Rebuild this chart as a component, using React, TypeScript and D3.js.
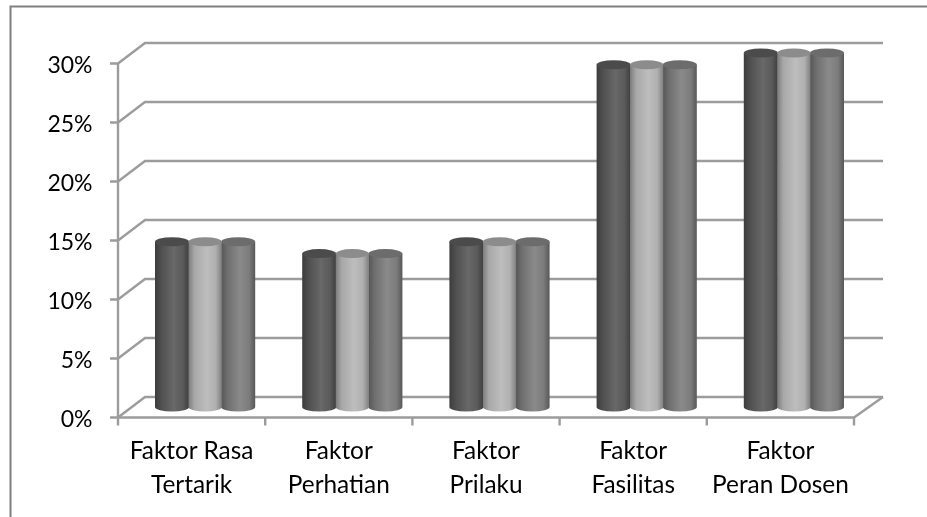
import React from "react";
import * as d3 from "d3";

const categories = [["Faktor Rasa", "Tertarik"], ["Faktor", "Perhatian"], ["Faktor", "Prilaku"], ["Faktor", "Fasilitas"], ["Faktor", "Peran Dosen"]];
const seriesA = [14, 13, 14, 29, 30];
const seriesB = [14, 13, 14, 29, 30];
const seriesC = [14, 13, 14, 29, 30];
const yTicks = [0, 5, 10, 15, 20, 25, 30];
const seriesNames = ["a", "b", "c"];

const W = 927, H = 517;
const front = { l: 118, r: 854, t: 63.5, b: 417.5 };
const dx = 27, dy = -20.5;
const backRight = 883;
const lineColor = "#9c9c9c";

const y = d3.scaleLinear().domain([0, 30]).range([front.b, front.t]);
const x = d3.scaleBand<number>().domain(d3.range(categories.length)).range([front.l, front.r]);
const inner = d3.scaleBand<string>().domain(seriesNames).range([37.5, 37.5 + 99.2]);

const grads = [
  { id: "ga", stops: ["#3c3c3c", "#4f4f4f", "#686868", "#5a5a5a", "#3e3e3e"], top: "#4c4c4c" },
  { id: "gb", stops: ["#7c7c7c", "#a8a8a8", "#bdbdbd", "#b0b0b0", "#808080"], top: "#8c8c8c" },
  { id: "gc", stops: ["#555555", "#6e6e6e", "#8a8a8a", "#7c7c7c", "#585858"], top: "#6c6c6c" },
];
const offsets = ["0%", "18%", "55%", "82%", "100%"];
const rows = [seriesA, seriesB, seriesC];
const baseLift = 10.5;
const ry = 4.5;

function cylinder(cx: number, rx: number, top: number, bottom: number) {
  return `M${cx - rx},${top}L${cx - rx},${bottom}A${rx},${ry} 0 0 0 ${cx + rx},${bottom}L${cx + rx},${top}Z`;
}

export default function App() {
  const bw = inner.bandwidth();
  return (
    <svg width={W} height={H} style={{ position: "fixed", left: 0, top: 0, background: "#fff" }}>
      <defs>
        {grads.map((g) => (
          <linearGradient key={g.id} id={g.id} x1="0" x2="1" y1="0" y2="0">
            {g.stops.map((s, i) => <stop key={i} offset={offsets[i]} stopColor={s} />)}
          </linearGradient>
        ))}
        <filter id="soft" x="-2%" y="-2%" width="104%" height="104%">
          <feGaussianBlur stdDeviation="0.45" />
        </filter>
      </defs>
      <g filter="url(#soft)">
        <path d={`M10.5,${H + 4}V6.5H${W + 4}`} fill="none" stroke="#808080" strokeWidth={2} />
        <g fill="none" stroke={lineColor} strokeWidth={2.4}>
          {yTicks.map((t) => (
            <path key={t} d={`M${front.l - 8},${y(t)}H${front.l}L${front.l + dx},${y(t) + dy}H${backRight}`} />
          ))}
          <path d={`M${front.l},${front.t}V${front.b + 8}`} />
          <path d={`M${front.l},${front.b}H${front.r}L${backRight},${front.b + dy}`} />
          {categories.map((_, i) => (
            <path key={i} d={`M${(x(i) as number) + x.bandwidth()},${front.b}v8`} />
          ))}
        </g>
        {categories.map((_, i) => {
          const x0 = x(i) as number;
          return (
            <g key={i}>
              {[0, 2, 1].map((s) => {
                const cx = x0 + (inner(seriesNames[s]) as number) + bw / 2;
                const rx = bw / 2 + (s === 1 ? 0 : 0.5);
                const bottom = y(0) - baseLift;
                const top = y(rows[s][i]) - baseLift;
                return (
                  <g key={s}>
                    <path d={cylinder(cx, rx, top, bottom)} fill={`url(#${grads[s].id})`} />
                    <ellipse cx={cx} cy={top} rx={rx} ry={ry} fill={grads[s].top} />
                  </g>
                );
              })}
            </g>
          );
        })}
        <g fontFamily="Lato, sans-serif" fill="#000">
          {yTicks.map((t) => (
            <text key={t} x={92.5} y={y(t) + 9.5} textAnchor="end" fontSize={23}>{t}%</text>
          ))}
          {categories.map((c, i) => (
            <text key={i} textAnchor="middle" fontSize={24.4}>
              {c.map((line, j) => (
                <tspan key={j} x={(x(i) as number) + x.bandwidth() / 2} y={459 + j * 33.5}>{line}</tspan>
              ))}
            </text>
          ))}
        </g>
      </g>
    </svg>
  );
}
